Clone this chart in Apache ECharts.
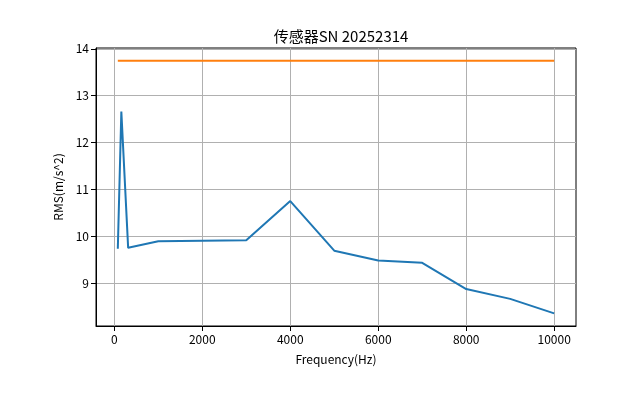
<!DOCTYPE html>
<html><head><meta charset="utf-8">
<script src="https://cdn.jsdelivr.net/npm/echarts@6/dist/echarts.min.js"></script>
<style>html,body{margin:0;padding:0;background:#fff}#c{width:640px;height:407px}</style>
</head><body><div id="c"></div>
<script>
const freqs = [80, 160, 315, 1000, 2000, 3000, 4000, 5000, 6000, 7000, 8000, 9000, 10000];
const rms = [9.73, 12.66, 9.75, 9.89, 9.90, 9.91, 10.75, 9.69, 9.48, 9.43, 8.87, 8.66, 8.35];
const limitX = [80, 10000];
const limitY = [13.75, 13.75];
const xTicks = [0, 2000, 4000, 6000, 8000, 10000];
const yTicks = [9, 10, 11, 12, 13, 14];
const titleText = '传感器SN 20252314';
const xName = 'Frequency(Hz)';
const yName = 'RMS(m/s^2)';

const font = "'Noto Sans CJK SC', sans-serif";
const chart = echarts.init(document.getElementById('c'), null, {renderer: 'canvas'});
chart.setOption({
  animation: false,
  title: {text: titleText, left: 336, top: 24, textAlign: 'center',
    textStyle: {fontFamily: font, fontSize: 15, fontWeight: 'normal', color: '#000'}},
  grid: {left: 96, right: 64, top: 48, bottom: 81, show: true, borderColor: '#000', borderWidth: 1, backgroundColor: 'transparent'},
  xAxis: {type: 'value', min: -416, max: 10496, name: xName, nameLocation: 'middle', nameGap: 27,
    nameTextStyle: {fontFamily: font, fontSize: 12, color: '#000', letterSpacing: 0.6},
    axisLine: {show: true, onZero: false, lineStyle: {color: '#000', width: 1}},
    axisTick: {show: true, length: 5, inside: false, customValues: xTicks, lineStyle: {color: '#000'}},
    axisLabel: {customValues: xTicks, formatter: v => String(v), fontFamily: font, fontSize: 12, color: '#000', margin: 7},
    splitLine: {show: true, lineStyle: {color: '#b0b0b0', width: 1}}},
  yAxis: {type: 'value', min: 8.08, max: 14.02, name: yName, nameLocation: 'middle', nameGap: 30, nameRotate: 90,
    nameTextStyle: {fontFamily: font, fontSize: 12, color: '#000'},
    axisLine: {show: true, onZero: false, lineStyle: {color: '#000', width: 1}},
    axisTick: {show: true, length: 5, inside: false, customValues: yTicks, lineStyle: {color: '#000'}},
    axisLabel: {customValues: yTicks, formatter: v => String(v), fontFamily: font, fontSize: 12, color: '#000', margin: 7},
    splitLine: {show: true, lineStyle: {color: '#b0b0b0', width: 1}}},
  series: [
    {type: 'line', data: freqs.map((f, i) => [f, rms[i]]), showSymbol: false, symbol: 'none',
      lineStyle: {color: '#1f77b4', width: 2}, itemStyle: {color: '#1f77b4'}},
    {type: 'line', data: limitX.map((f, i) => [f, limitY[i]]), showSymbol: false, symbol: 'none',
      lineStyle: {color: '#ff7f0e', width: 2}, itemStyle: {color: '#ff7f0e'}}
  ]
});
</script></body></html>
